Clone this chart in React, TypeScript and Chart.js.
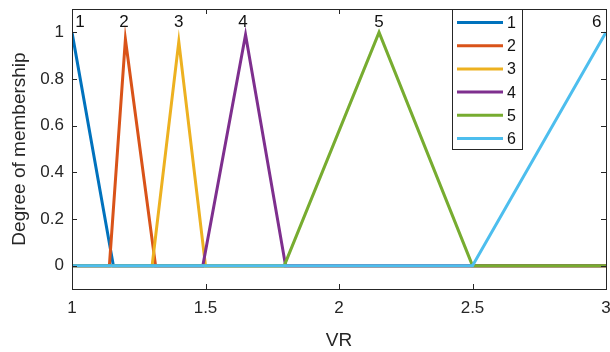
import React, { useEffect, useRef } from "react";
import { Chart, registerables } from "chart.js";

Chart.register(...registerables);

const seriesNames = ["1", "2", "3", "4", "5", "6"];
const seriesColors = ["#0072BD", "#D95319", "#EDB120", "#7E2F8E", "#77AC30", "#4DBEEE"];

const s1x = [1, 1.155, 3];
const s1y = [1, 0, 0];
const s2x = [1, 1.14, 1.2, 1.313, 3];
const s2y = [0, 0, 0.97, 0, 0];
const s3x = [1, 1.3, 1.4, 1.5, 3];
const s3y = [0, 0, 0.96, 0, 0];
const s4x = [1, 1.49, 1.65, 1.8, 3];
const s4y = [0, 0, 0.99, 0, 0];
const s5x = [1, 1.795, 2.15, 2.5, 3];
const s5y = [0, 0, 1, 0, 0];
const s6x = [1, 2.5, 3];
const s6y = [0, 0, 1];

const seriesX = [s1x, s2x, s3x, s4x, s5x, s6x];
const seriesY = [s1y, s2y, s3y, s4y, s5y, s6y];

const peakLabelX = [1.03, 1.195, 1.4, 1.64, 2.15, 2.965];
const peakLabelY = [1.045, 1.045, 1.045, 1.045, 1.045, 1.045];

const xTicks = [1, 1.5, 2, 2.5, 3];
const yTicks = [0, 0.2, 0.4, 0.6, 0.8, 1];

const FONT = "'Liberation Sans', Arial, Helvetica, sans-serif";
const TEXT = "#262626";
const AXIS = "#262626";

const framePlugin = {
  id: "matlabFrame",
  afterDatasetsDraw(chart: any) {
    const { ctx, chartArea: a, scales } = chart;
    const xs = scales.x;
    const ys = scales.y;
    ctx.save();
    ctx.strokeStyle = AXIS;
    ctx.lineWidth = 1;
    ctx.strokeRect(Math.round(a.left) + 0.5, Math.round(a.top) + 0.5, Math.round(a.right - a.left), Math.round(a.bottom - a.top));
    const tl = 5;
    ctx.beginPath();
    xTicks.forEach((v) => {
      const px = Math.round(xs.getPixelForValue(v)) + 0.5;
      ctx.moveTo(px, a.bottom);
      ctx.lineTo(px, a.bottom - tl);
      ctx.moveTo(px, a.top);
      ctx.lineTo(px, a.top + tl);
    });
    yTicks.forEach((v) => {
      const py = Math.round(ys.getPixelForValue(v)) + 0.5;
      ctx.moveTo(a.left, py);
      ctx.lineTo(a.left + tl, py);
      ctx.moveTo(a.right, py);
      ctx.lineTo(a.right - tl, py);
    });
    ctx.stroke();
    ctx.fillStyle = "#111111";
    ctx.font = `17px ${FONT}`;
    ctx.textAlign = "center";
    ctx.textBaseline = "middle";
    seriesNames.forEach((n, i) => {
      ctx.fillText(n, xs.getPixelForValue(peakLabelX[i]), ys.getPixelForValue(peakLabelY[i]));
    });
    const lx = a.left + 380;
    const ly = a.top;
    const lw = 70;
    const lh = 140;
    ctx.fillStyle = "#ffffff";
    ctx.fillRect(lx, ly, lw, lh);
    ctx.strokeStyle = AXIS;
    ctx.lineWidth = 1;
    ctx.strokeRect(Math.round(lx) + 0.5, Math.round(ly) + 0.5, lw, lh);
    ctx.font = `16px ${FONT}`;
    ctx.textAlign = "left";
    ctx.textBaseline = "middle";
    seriesNames.forEach((n, i) => {
      const yy = ly + 13.5 + i * 23.2;
      ctx.strokeStyle = seriesColors[i];
      ctx.lineWidth = 3;
      ctx.beginPath();
      ctx.moveTo(lx + 5, yy);
      ctx.lineTo(lx + 51, yy);
      ctx.stroke();
      ctx.fillStyle = "#111111";
      ctx.fillText(n, lx + 55, yy + 1);
    });
    ctx.restore();
  },
};

export default function App() {
  const ref = useRef<HTMLCanvasElement | null>(null);
  useEffect(() => {
    document.body.style.margin = "0";
    const canvas = ref.current!;
    const datasets = seriesNames.map((n, i) => ({
      label: n,
      data: seriesX[i].map((x, j) => ({ x, y: seriesY[i][j] })),
      borderColor: seriesColors[i],
      backgroundColor: seriesColors[i],
      borderWidth: 3,
      pointRadius: 0,
      fill: false,
      tension: 0,
      order: 5 - i,
    }));
    const chart = new Chart(canvas, {
      type: "line",
      data: { datasets },
      plugins: [framePlugin],
      options: {
        animation: false,
        responsive: false,
        maintainAspectRatio: false,
        layout: { padding: { left: 0, top: 9, right: 4, bottom: 0 } },
        plugins: { legend: { display: false }, tooltip: { enabled: false } },
        scales: {
          x: {
            type: "linear",
            min: 1,
            max: 3,
            grid: { display: false, drawTicks: false },
            border: { display: false },
            afterBuildTicks: (s: any) => {
              s.ticks = xTicks.map((v) => ({ value: v }));
            },
            afterFit: (s: any) => {
              s.height = 63;
              s.paddingLeft = 0;
              s.paddingRight = 0;
              s.paddingTop = 0;
              s.paddingBottom = 0;
            },
            ticks: {
              font: { family: FONT, size: 17 },
              color: TEXT,
              padding: 9,
              maxRotation: 0,
              callback: (v: any) => String(v),
            },
            title: {
              display: true,
              text: "VR",
              font: { family: FONT, size: 19 },
              color: TEXT,
              padding: { top: 4, bottom: 0 },
            },
          },
          y: {
            type: "linear",
            min: -0.1,
            max: 1.1,
            grid: { display: false, drawTicks: false },
            border: { display: false },
            afterBuildTicks: (s: any) => {
              s.ticks = yTicks.map((v) => ({ value: v }));
            },
            afterFit: (s: any) => {
              s.width = 72;
              s.paddingLeft = 0;
              s.paddingRight = 0;
              s.paddingTop = 0;
              s.paddingBottom = 0;
            },
            ticks: {
              font: { family: FONT, size: 17 },
              color: TEXT,
              padding: 8,
              callback: (v: any) => String(Math.round(v * 10) / 10),
            },
            title: {
              display: true,
              text: "Degree of membership",
              font: { family: FONT, size: 19 },
              color: TEXT,
              padding: { top: 8, bottom: 0 },
            },
          },
        },
      },
    });
    return () => chart.destroy();
  }, []);
  return (
    <div style={{ width: 610, height: 352, background: "#fff" }}>
      <canvas ref={ref} width={610} height={352} style={{ display: "block" }} />
    </div>
  );
}
